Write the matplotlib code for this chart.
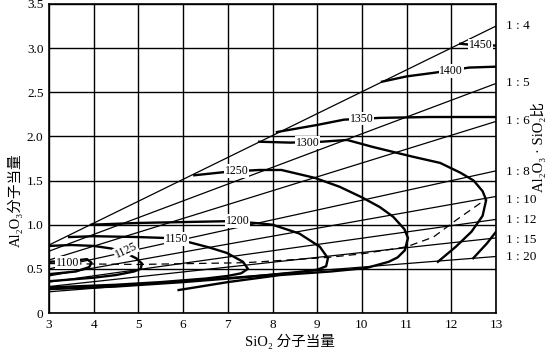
import matplotlib.pyplot as plt
import numpy as np

plt.rcParams['font.family'] = ['Liberation Serif', 'DejaVu Serif', 'Noto Sans CJK SC']

# Al2O3 : SiO2 ratio lines, value at SiO2 = 3 and SiO2 = 13
ratio_labels = ['1:4', '1:5', '1:6', '1:8', '1:10', '1:12', '1:15', '1:20']
ratio_left = [0.77, 0.70, 0.60, 0.50, 0.42, 0.35, 0.30, 0.24]
ratio_right = [3.25, 2.60, 2.17, 1.61, 1.32, 1.06, 0.85, 0.64]
ratio_label_y = [3.25, 2.60, 2.17, 1.60, 1.28, 1.05, 0.83, 0.63]

# isotherms (SiO2, Al2O3)
iso_1100 = [(3.0, 0.58), (3.5, 0.59), (3.85, 0.61), (3.95, 0.57), (3.9, 0.52),
            (3.6, 0.47), (3.0, 0.44)]
iso_1125 = [(3.0, 0.76), (3.5, 0.77), (4.0, 0.76), (4.4, 0.73), (4.75, 0.67),
            (4.95, 0.62), (5.08, 0.56), (5.05, 0.50), (4.9, 0.47), (4.5, 0.43),
            (4.0, 0.40), (3.0, 0.36)]
iso_1150 = [(3.45, 0.86), (4.0, 0.87), (5.0, 0.86), (5.6, 0.85), (6.15, 0.80),
            (6.6, 0.74), (6.98, 0.68), (7.34, 0.58), (7.45, 0.50), (7.3, 0.45),
            (7.0, 0.42), (6.5, 0.39), (5.5, 0.35), (4.5, 0.32), (3.0, 0.29)]
iso_1200 = [(3.95, 1.00), (5.0, 1.02), (6.0, 1.03), (7.0, 1.04), (7.6, 1.02),
            (8.0, 1.00), (8.6, 0.90), (9.06, 0.75), (9.24, 0.62), (9.2, 0.53),
            (9.0, 0.49), (8.5, 0.46), (7.5, 0.41), (6.0, 0.35), (4.5, 0.30),
            (3.0, 0.27)]
iso_1250 = [(6.25, 1.56), (7.0, 1.60), (7.7, 1.62), (8.2, 1.62), (8.95, 1.53),
            (9.5, 1.43), (10.0, 1.31), (10.4, 1.20), (10.7, 1.09), (10.95, 0.95),
            (11.03, 0.85), (10.96, 0.71), (10.8, 0.63), (10.6, 0.58), (10.1, 0.51),
            (9.3, 0.47), (8.17, 0.43), (7.0, 0.35), (5.9, 0.26)]
iso_1300 = [(7.7, 1.94), (8.4, 1.93), (9.1, 1.94), (9.67, 1.96), (10.25, 1.88),
            (11.14, 1.77), (11.75, 1.70), (12.2, 1.59), (12.5, 1.50), (12.7, 1.38),
            (12.78, 1.28), (12.7, 1.10), (12.45, 0.92), (12.1, 0.75), (11.7, 0.58)]
iso_1350 = [(8.1, 2.05), (9.0, 2.13), (9.6, 2.19), (10.4, 2.21), (11.5, 2.22),
            (13.0, 2.22)]
iso_1350_low = [(12.49, 0.62), (12.8, 0.79), (13.0, 0.92)]
iso_1400 = [(10.45, 2.62), (11.0, 2.68), (11.6, 2.72), (12.4, 2.78), (13.0, 2.79)]
iso_1450 = [(12.2, 3.05), (12.6, 3.03), (13.0, 3.03)]

# dashed boundary through the noses
dash_line = [(3.0, 0.56), (5.0, 0.55), (7.4, 0.57), (9.25, 0.63), (10.0, 0.67),
             (11.0, 0.75), (11.6, 0.86), (12.13, 1.06), (12.75, 1.28)]

# label positions (x, y, rotation)
iso_text = {
    '1100': (3.42, 0.57, 0), '1125': (4.72, 0.71, 25), '1150': (5.85, 0.84, 0),
    '1200': (7.22, 1.04, 0), '1250': (7.2, 1.61, 0), '1300': (8.78, 1.93, 0),
    '1350': (10.0, 2.20, 0), '1400': (12.0, 2.74, 0), '1450': (12.65, 3.03, 0),
}

fig = plt.figure(figsize=(5.6, 3.51), dpi=100)
ax = fig.add_axes([49 / 560, 1 - 313 / 351, 447 / 560, 309 / 351])

ax.set_xlim(3, 13)
ax.set_ylim(0, 3.5)
ax.set_xticks(range(3, 14))
ax.set_yticks(np.arange(0, 3.51, 0.5))
ax.set_yticklabels(['0', '0.5', '1.0', '1.5', '2.0', '2.5', '3.0', '3.5'])
ax.grid(True, color='black', linewidth=1.0)
ax.set_axisbelow(True)
ax.tick_params(length=0, labelsize=9.5, pad=4)
for s in ax.spines.values():
    s.set_linewidth(1.2)

for l, r in zip(ratio_left, ratio_right):
    ax.plot([3, 13], [l, r], color='black', lw=0.9)

for iso in [iso_1100, iso_1125, iso_1150, iso_1200, iso_1250, iso_1300,
            iso_1350, iso_1350_low, iso_1400, iso_1450]:
    pts = np.array(iso)
    ax.plot(pts[:, 0], pts[:, 1], color='black', lw=1.7)

d = np.array(dash_line)
ax.plot(d[:, 0], d[:, 1], color='black', lw=0.9, ls=(0, (6, 4)))

for t, (x, y, rot) in iso_text.items():
    ax.text(x, y, t, fontsize=8.5, ha='center', va='center', rotation=rot,
            bbox=dict(facecolor='white', edgecolor='none', pad=0.5), zorder=5)

for lab, y in zip(ratio_labels, ratio_label_y):
    ax.text(13.22, y, lab.replace(':', ' : '), fontsize=9.5, ha='left', va='center',
            clip_on=False)

fig.text(290 / 560, 1 - 341 / 351, 'SiO₂ 分子当量', fontsize=10.5, ha='center',
         va='center')
fig.text(15 / 560, 1 - 200 / 351, 'Al₂O₃分子当量', fontsize=10.5, rotation=90,
         ha='center', va='center')
fig.text(538 / 560, 1 - 147 / 351, 'Al₂O₃ · SiO₂比', fontsize=10.5, rotation=90,
         ha='center', va='center')

fig.savefig('out.png', dpi=100)
